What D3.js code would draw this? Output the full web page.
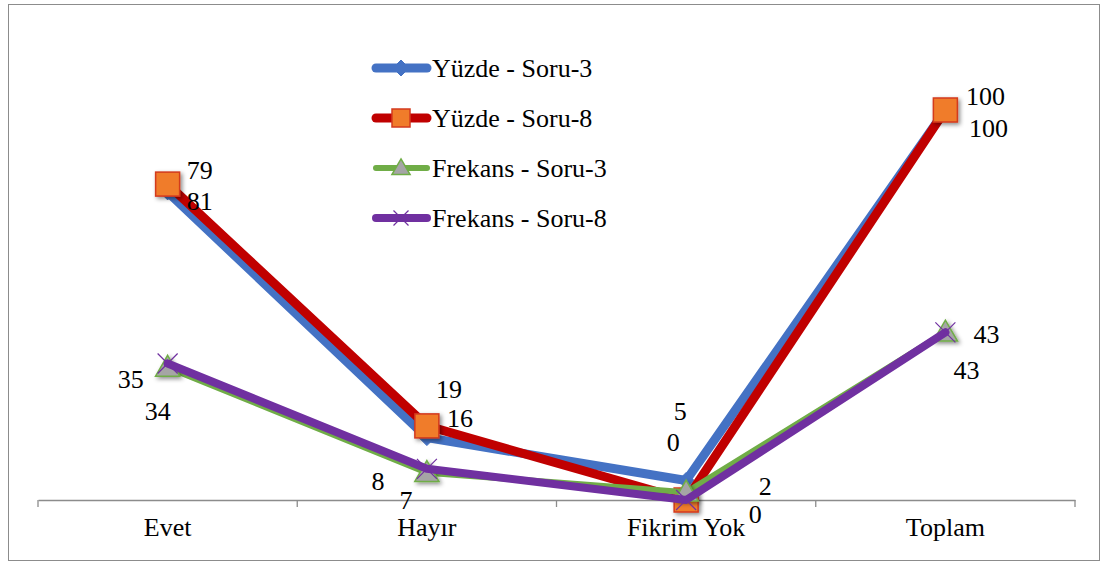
<!DOCTYPE html>
<html>
<head>
<meta charset="utf-8">
<script src="https://cdn.jsdelivr.net/npm/d3@7"></script>
<style>
  body { margin: 0; background: #fff; }
  #view text { font-family: 'Times New Roman', 'Liberation Serif', serif !important; }
</style>
</head>
<body>
<svg id="view"></svg>
<script>
// data
const categories = ['Evet', 'Hayır', 'Fikrim Yok', 'Toplam'];
const seriesNames = ['Yüzde - Soru-3', 'Yüzde - Soru-8', 'Frekans - Soru-3', 'Frekans - Soru-8'];
const yuzdeSoru3 = [79, 16, 5, 100];
const yuzdeSoru8 = [81, 19, 0, 100];
const frekansSoru3 = [34, 7, 2, 43];
const frekansSoru8 = [35, 8, 0, 43];

// layout / style (not data)
const FONT = 'Times New Roman';
const FS = 26;
const styles = [
  {color: '#4472C4', width: 9, marker: 'diamond'},
  {color: '#C00000', width: 9, marker: 'square'},
  {color: '#70AD47', width: 6, marker: 'triangle'},
  {color: '#7030A0', width: 8, marker: 'cross'}
];
// label nudges, as Excel placed them (dx, dy) per series per category
const labelNudge = [
  [[32, -22], [33, -20], [-6, -70], [40, -14]],
  [[32, 17], [22, -37], [-13, -58], [43, 18]],
  [[-10, 43], [-21, 27], [79, -6], [21, 38]],
  [[-37, 15], [-49, 12], [69, 14], [41, 2]]
];

const W = 1105, H = 565;
const svg = d3.select('#view').attr('width', W).attr('height', H);

const defs = svg.append('defs');
const f = defs.append('filter').attr('id', 'shadow').attr('x', '-50%').attr('y', '-50%').attr('width', '200%').attr('height', '200%');
f.append('feDropShadow').attr('dx', 2).attr('dy', 2).attr('stdDeviation', 2).attr('flood-color', '#000').attr('flood-opacity', 0.45);

// chart border
svg.append('rect').attr('x', 8.5).attr('y', 4.5).attr('width', 1091).attr('height', 556)
  .attr('fill', '#fff').attr('stroke', '#8c8c8c').attr('stroke-width', 1);

const x = d3.scaleBand().domain(categories).range([38, 1075]);
const y = d3.scaleLinear().domain([0, 100]).range([500, 110]);
const cx = d => x(d) + x.bandwidth() / 2;

// category axis
const xAxis = d3.axisBottom(x).tickSize(0).tickPadding(18);
const gx = svg.append('g').attr('transform', 'translate(0,500)').call(xAxis)
  .attr('font-family', FONT).attr('font-size', FS);
gx.select('.domain').attr('stroke', '#8c8c8c').attr('stroke-width', 1.3);
gx.selectAll('text').attr('dy', '0.71em').attr('fill', '#000')
  .style('font-family', FONT).style('font-size', FS + 'px');
const bounds = x.domain().map(c => x(c)).concat([x.range()[1]]);
gx.selectAll('.sep').data(bounds).enter().append('line')
  .attr('x1', d => d).attr('x2', d => d).attr('y1', 0).attr('y2', 7)
  .attr('stroke', '#8c8c8c').attr('stroke-width', 1.3);

const allSeries = [yuzdeSoru3, yuzdeSoru8, frekansSoru3, frekansSoru8];

function drawMarker(g, kind, color, px, py, scale) {
  scale = scale || 1;
  if (kind === 'diamond') {
    const s = 8 * scale;
    g.append('path').attr('d', `M${px},${py - s}L${px + s},${py}L${px},${py + s}L${px - s},${py}Z`)
      .attr('fill', color).attr('stroke', color);
  } else if (kind === 'square') {
    const s = 12 * scale;
    g.append('rect').attr('x', px - s).attr('y', py - s).attr('width', 2 * s).attr('height', 2 * s)
      .attr('fill', '#F07C2A').attr('stroke', '#D33A1E').attr('stroke-width', 1.5)
      .attr('filter', scale === 1 ? 'url(#shadow)' : null);
  } else if (kind === 'triangle') {
    const s = 11 * scale;
    g.append('path').attr('d', `M${px},${py - s * 1.1}L${px + s * 1.1},${py + s * 0.8}L${px - s * 1.1},${py + s * 0.8}Z`)
      .attr('fill', '#A5A5A5').attr('stroke', '#70AD47').attr('stroke-width', 1.5)
      .attr('filter', scale === 1 ? 'url(#shadow)' : null);
  } else {
    const s = 10 * scale;
    g.append('path').attr('d', `M${px - s},${py - s}L${px + s},${py + s}M${px + s},${py - s}L${px - s},${py + s}`)
      .attr('stroke', color).attr('stroke-width', 1.2).attr('fill', 'none');
  }
}

const line = d3.line().x((d, i) => cx(categories[i])).y(d => y(d));

allSeries.forEach((vals, si) => {
  const st = styles[si];
  const g = svg.append('g');
  g.append('path').datum(vals).attr('d', line)
    .attr('fill', 'none').attr('stroke', st.color).attr('stroke-width', st.width)
    .attr('stroke-linejoin', 'round').attr('stroke-linecap', 'round');
  vals.forEach((v, i) => drawMarker(g, st.marker, st.color, cx(categories[i]), y(v)));
});

// data labels
allSeries.forEach((vals, si) => {
  svg.append('g').selectAll('text').data(vals).enter().append('text')
    .attr('x', (d, i) => cx(categories[i]) + labelNudge[si][i][0])
    .attr('y', (d, i) => y(d) + labelNudge[si][i][1])
    .attr('text-anchor', 'middle').attr('dy', '0.35em')
    .style('font-family', FONT).style('font-size', FS + 'px')
    .text(d => d);
});

// legend
const legend = svg.append('g').attr('transform', 'translate(372,68)');
seriesNames.forEach((name, i) => {
  const st = styles[i];
  const g = legend.append('g').attr('transform', `translate(0,${i * 50})`);
  g.append('line').attr('x1', 4).attr('x2', 55).attr('y1', 0).attr('y2', 0)
    .attr('stroke', st.color).attr('stroke-width', st.width).attr('stroke-linecap', 'round');
  drawMarker(g, st.marker, st.color, 29, 0, st.marker === 'diamond' ? 1 : 0.75);
  g.append('text').attr('x', 60).attr('y', 0).attr('dy', '0.35em')
    .style('font-family', FONT).style('font-size', FS + 'px').text(name);
});
</script>
</body>
</html>
